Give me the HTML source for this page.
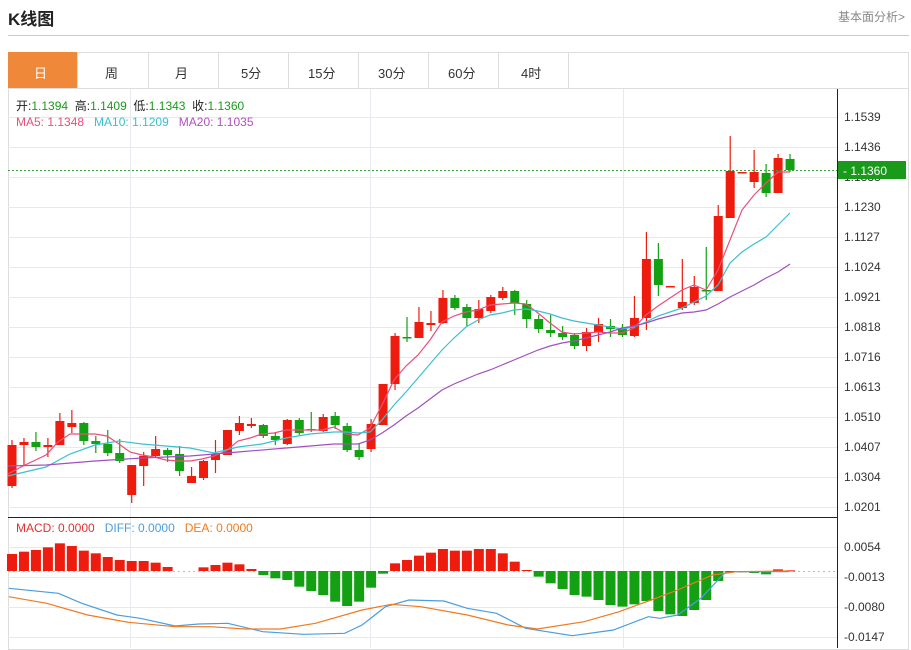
<!DOCTYPE html>
<html><head><meta charset="utf-8"><style>
body{margin:0;width:911px;height:649px;background:#fff;overflow:hidden;font-family:"Liberation Sans","Noto Sans CJK SC",sans-serif;position:relative}
.t{position:absolute;white-space:nowrap}
</style></head><body>
<div class="t" style="left:8px;top:5px;font-size:17px;font-weight:bold;color:#222">K线图</div>
<div class="t" style="right:6px;top:8px;font-size:12px;color:#888">基本面分析&gt;</div>
<div style="position:absolute;left:8px;top:35px;width:901px;height:1px;background:#ccc"></div>
<div style="position:absolute;left:8px;top:52px;width:899px;height:596px;border:1px solid #ddd"></div>
<div style="position:absolute;left:8px;top:52px;width:69px;height:36px;background:#f0883a"></div>
<div style="position:absolute;left:8px;top:88px;width:900px;height:1px;background:#ddd"></div>
<div id="tabs"></div>
<div class="t" style="left:34px;top:63px;font-size:13px;color:#fff">日</div>
<div class="t" style="left:105px;top:63px;font-size:13px;color:#333">周</div>
<div class="t" style="left:175px;top:63px;font-size:13px;color:#333">月</div>
<div class="t" style="left:241px;top:63px;font-size:13px;color:#333">5分</div>
<div class="t" style="left:308px;top:63px;font-size:13px;color:#333">15分</div>
<div class="t" style="left:378px;top:63px;font-size:13px;color:#333">30分</div>
<div class="t" style="left:448px;top:63px;font-size:13px;color:#333">60分</div>
<div class="t" style="left:521px;top:63px;font-size:13px;color:#333">4时</div>
<svg id="s" width="911" height="649" style="position:absolute;left:0;top:0" xmlns="http://www.w3.org/2000/svg">
<g stroke="#e6e9ee" stroke-width="1" id="grid"></g>
<g id="c"></g>
<line x1="837.5" y1="89" x2="837.5" y2="648" stroke="#222"/>
<line x1="8" y1="517.5" x2="837" y2="517.5" stroke="#222"/>
<line x1="8" y1="170.5" x2="837" y2="170.5" stroke="#3aa33a" stroke-dasharray="2,2"/>
<g font-size="12" fill="#333" font-family="Liberation Sans,sans-serif">
<text x="844" y="121">1.1539</text><text x="844" y="151">1.1436</text><text x="844" y="181">1.1333</text><text x="844" y="211">1.1230</text><text x="844" y="241">1.1127</text><text x="844" y="271">1.1024</text><text x="844" y="301">1.0921</text><text x="844" y="331">1.0818</text><text x="844" y="361">1.0716</text><text x="844" y="391">1.0613</text><text x="844" y="421">1.0510</text><text x="844" y="451">1.0407</text><text x="844" y="481">1.0304</text><text x="844" y="511">1.0201</text>
<text x="844" y="551">0.0054</text><text x="844" y="581">-0.0013</text><text x="844" y="611">-0.0080</text><text x="844" y="641">-0.0147</text>
</g>
<rect x="838" y="161" width="68" height="18" fill="#1a9a1a"/>
<text x="843" y="175" font-size="12" fill="#fff" font-family="Liberation Sans,sans-serif">- 1.1360</text>
</svg>
<div class="t" style="left:16px;top:97px;font-size:12px;color:#222">开:<span style="color:#1a9a1a">1.1394</span>&nbsp;&nbsp;高:<span style="color:#1a9a1a">1.1409</span>&nbsp;&nbsp;低:<span style="color:#1a9a1a">1.1343</span>&nbsp;&nbsp;收:<span style="color:#1a9a1a">1.1360</span></div>
<div class="t" style="left:16px;top:115px;font-size:12px;color:#e8507a">MA5: 1.1348&nbsp;&nbsp;&nbsp;<span style="color:#3cc0d0">MA10: 1.1209</span>&nbsp;&nbsp;&nbsp;<span style="color:#b050c0">MA20: 1.1035</span></div>
<div class="t" style="left:16px;top:521px;font-size:12px;color:#e53030">MACD: 0.0000&nbsp;&nbsp;&nbsp;<span style="color:#4a9de0">DIFF: 0.0000</span>&nbsp;&nbsp;&nbsp;<span style="color:#f07a20">DEA: 0.0000</span></div>
<script>
var NS="http://www.w3.org/2000/svg",g=document.getElementById('c'),gr=document.getElementById('grid');
function el(p,t,a){var e=document.createElementNS(NS,t);for(var k in a)e.setAttribute(k,a[k]);p.appendChild(e);return e;}
[77,148,218,288,358,428,498,568].forEach(function(x){el(document.getElementById('s'),'line',{x1:x+.5,y1:53,x2:x+.5,y2:88,stroke:'#ddd'});});
for(var y=117;y<=507;y+=30)el(gr,'line',{x1:8,y1:y+.5,x2:837,y2:y+.5});
[547,577,607,637].forEach(function(y){el(gr,'line',{x1:8,y1:y+.5,x2:837,y2:y+.5});});
[130,370,623].forEach(function(x){el(gr,'line',{x1:x+.5,y1:89,x2:x+.5,y2:648});});
var R='#ee1c0e',G='#13a013';
var C=[[1,445,486,440,488],[1,442,445,438,466],[0,442,447,432,451],[1,445,447,438,457],[1,421,445,413,445],[1,423,427,410,433],[0,423,441,422,445],[0,441,444,436,453],[0,444,453,430,456],[0,453,461,439,463],[1,465,495,465,503],[1,456,466,452,486],[1,449,456,436,458],[0,450,455,448,462],[0,454,471,446,476],[1,476,483,467,483],[1,461,478,460,480],[1,454,460,440,473],[1,430,455,430,455],[1,423,431,416,435],[1,424,426,418,428],[0,425,436,424,438],[0,436,440,432,445],[1,420,444,419,445],[0,420,433,418,435],[0,429,430,412,432],[1,417,431,414,432],[0,416,425,412,429],[0,426,450,423,452],[0,450,457,444,460],[1,424,449,419,452],[1,384,425,384,425],[1,336,384,333,390],[0,337,338,317,342],[1,322,338,307,338],[1,323,325,311,331],[1,298,323,290,324],[0,298,308,295,310],[0,307,318,304,326],[1,309,318,300,323],[1,297,311,295,313],[1,291,298,287,300],[0,291,303,290,315],[0,304,319,300,328],[0,319,329,315,333],[0,330,333,315,337],[0,333,337,326,340],[0,335,346,333,349],[1,332,346,328,351],[1,324,332,318,342],[0,326,329,319,337],[0,329,335,324,337],[1,318,336,296,337],[1,259,318,232,330],[0,259,285,243,296],[1,286,287,286,287],[1,302,308,259,310],[1,287,303,276,305],[0,290,291,247,300],[1,216,291,205,291],[1,171,218,136,218],[1,172,173,172,173],[1,172,182,150,188],[0,173,193,164,197],[1,158,193,154,193],[0,159,170,154,172]];
C.forEach(function(c,i){var x=12+i*11.97,col=c[0]?R:G;
el(g,'line',{x1:x,y1:c[3],x2:x,y2:c[4],stroke:col,'stroke-width':1.2});
el(g,'rect',{x:x-4.5,y:c[1],width:9,height:Math.max(1.5,c[2]-c[1]),fill:col});});
function pl(pts,col){el(g,'polyline',{points:pts.map(function(p){return p.join(',')}).join(' '),fill:'none',stroke:col,'stroke-width':1.2});}
pl([[8,474],[23,466],[46,455],[58,442],[70,434],[95,434],[107,436],[119,444],[130,452],[142,455],[154,457],[166,460],[178,461],[190,461],[202,459],[214,456],[226,451],[238,441],[250,438],[262,434],[274,433],[286,430],[298,430],[310,430],[322,430],[334,427],[346,434],[358,435],[370,428],[382,405],[394,380],[406,366],[418,355],[430,340],[442,322],[454,316],[466,312],[478,310],[490,305],[502,304],[514,303],[526,304],[538,313],[550,323],[562,332],[574,334],[586,333],[598,332],[610,333],[622,333],[634,328],[646,315],[658,306],[670,298],[682,290],[694,285],[706,290],[718,270],[730,240],[742,210],[754,195],[766,183],[778,172],[790,172]],'#e8507a');
pl([[8,476],[46,467],[70,454],[95,445],[119,441],[142,444],[166,446],[190,448],[214,453],[238,447],[262,444],[286,438],[310,434],[334,432],[346,432],[358,433],[370,432],[382,420],[394,405],[406,392],[418,378],[430,364],[442,350],[454,338],[466,327],[478,320],[490,315],[502,313],[514,310],[526,309],[538,311],[550,314],[562,318],[574,321],[586,323],[598,325],[610,327],[622,329],[634,327],[646,322],[658,316],[670,312],[682,308],[694,302],[706,296],[718,285],[730,263],[742,252],[754,244],[766,237],[778,225],[790,213]],'#3cc0d0');
pl([[8,466],[46,465],[95,461],[142,458],[190,456],[238,452],[286,448],[334,444],[358,444],[370,440],[382,433],[394,425],[406,416],[418,408],[430,399],[442,390],[454,384],[466,379],[478,374],[490,370],[502,365],[514,360],[526,355],[538,350],[550,346],[562,343],[574,341],[586,338],[598,335],[610,332],[622,328],[634,326],[646,323],[658,319],[670,316],[682,313],[694,312],[706,310],[718,304],[730,297],[742,291],[754,285],[766,278],[778,272],[790,264]],'#a050c0');
var H=[117,110,105,97,85,93,107,115,126,135,138,138,143,156,168,168,157,150,143,148,162,180,190,195,215,228,240,260,273,260,218,176,145,135,122,113,102,107,107,102,102,115,140,165,185,205,222,240,245,255,270,275,268,258,288,298,303,285,255,198,172,172,174,178,163,166];
el(g,'line',{x1:8,y1:571.5,x2:837,y2:571.5,stroke:'#9cc8e0','stroke-dasharray':'2,3'});
H.forEach(function(z,i){var y=515+z/3,x=12+i*11.97;if(Math.abs(y-571)<0.5)return;var t=Math.min(y,571),h=Math.abs(y-571);
el(g,'rect',{x:x-5,y:t,width:10,height:Math.max(1,h),fill:y<571?R:G});});
function mp(a){return a.map(function(p){return [(p[0]/1.712).toFixed(1),(515+p[1]/3).toFixed(1)]});}
pl(mp([[15,220],[100,235],[140,265],[200,300],[240,310],[300,333],[340,327],[390,325],[450,350],[520,358],[590,355],[620,330],[660,275],[700,255],[760,258],[800,280],[850,295],[900,340],[980,362],[1050,345],[1110,305],[1130,310],[1160,300],[1200,250],[1240,175],[1260,170],[1350,170]]),'#4a9de0');
pl(mp([[15,245],[80,265],[150,300],[220,322],[300,335],[360,335],[420,342],[480,342],[540,325],[620,285],[670,268],[720,275],[800,300],[870,330],[920,342],[1000,320],[1060,290],[1110,258],[1160,225],[1220,180],[1260,170],[1350,168]]),'#f07a20');
</script>
</body></html>
